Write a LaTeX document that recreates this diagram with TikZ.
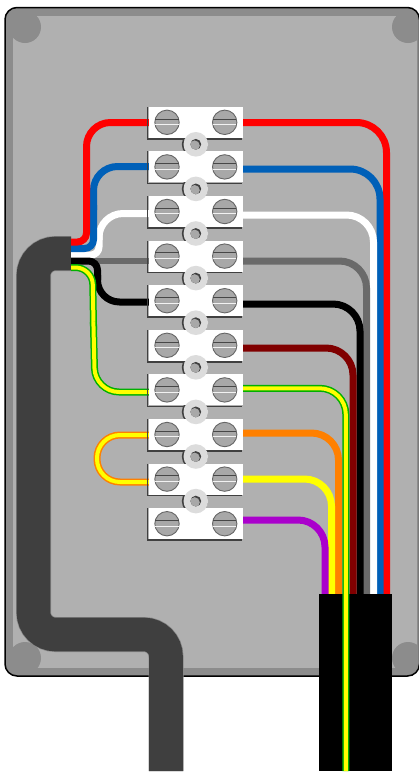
\documentclass[tikz,border=0pt]{standalone}
\definecolor{boxlight}{HTML}{B0B0B0}
\definecolor{boxband}{HTML}{8C8C8C}
\definecolor{cablegrey}{HTML}{3F3F3F}
\definecolor{cableedge}{HTML}{8A8A8A}
\definecolor{wred}{HTML}{FF0000}
\definecolor{wblue}{HTML}{0060B8}
\definecolor{wgrey}{HTML}{6A6A6A}
\definecolor{wdark}{HTML}{800000}
\definecolor{worange}{HTML}{FF8000}
\definecolor{wyellow}{HTML}{FFFF00}
\definecolor{wpurple}{HTML}{AA00CC}
\definecolor{wgreen}{HTML}{00B000}
\definecolor{screwfill}{HTML}{A8A8A8}
\definecolor{screwline}{HTML}{666666}
\definecolor{ringfill}{HTML}{DCDCDC}
\definecolor{shadowline}{HTML}{404040}
\tikzset{
  wireline/.style={line width=7pt,line join=round,rounded corners=#1},
  wireline/.default=27pt,
  groundline/.style={draw=wgreen,line width=1.5pt,double=wyellow,double distance=4pt,line join=round,rounded corners=#1},
  groundline/.default=26pt,
  loopline/.style={draw=worange,line width=1.5pt,double=wyellow,double distance=4pt,line join=round,rounded corners=23pt},
  screwbody/.style={fill=screwfill,draw=screwline,line width=0.9pt},
}
\begin{document}
\begin{tikzpicture}[x=1pt,y=-1pt]
\useasboundingbox (0,0) rectangle (419,772);
\clip (0,0) rectangle (419,772);
% enclosure
\fill[boxband,rounded corners=12pt] (5,7.5) rectangle (419.5,676);
\begin{scope}
\clip[rounded corners=12pt] (5,7.5) rectangle (419.5,676);
\fill[boxlight] (13,16) rectangle (417,668);
\fill[boxband] (25,27) circle (16);
\fill[boxband] (408,27) circle (16);
\fill[boxband] (25,658) circle (16);
\fill[boxband] (408,658) circle (16);
\end{scope}
\draw[black,line width=1.5pt,rounded corners=12pt] (5,7.5) rectangle (419.5,676);
% cable
\draw[cableedge,line width=35pt,rounded corners=22pt] (71,253.5) -- (33.5,253.5) -- (33.5,634.5) -- (166,634.5) -- (166,771);
\draw[cablegrey,line width=33.6pt,rounded corners=22pt] (71,253.5) -- (33.5,253.5) -- (33.5,634.5) -- (166,634.5) -- (166,771);
% wires, right side
\draw[wireline=30pt,wred] (240,122.5) -- (386.5,122.5) -- (386.5,600);
\draw[wireline=30pt,wblue] (240,169) -- (380,169) -- (380,600);
\draw[wireline,white] (240,215) -- (373.5,215) -- (373.5,600);
\draw[wireline,wgrey] (240,261) -- (366.5,261) -- (366.5,600);
\draw[wireline,black] (240,304) -- (360,304) -- (360,600);
\draw[wireline,wdark] (240,348) -- (353,348) -- (353,600);
\draw[wireline,worange] (240,433) -- (338.5,433) -- (338.5,600);
\draw[wireline,wyellow] (240,479) -- (331.5,479) -- (331.5,600);
\draw[wireline,wpurple] (240,520) -- (325,520) -- (325,600);
% wires, left side
\draw[wgrey,line width=6.4pt] (71,261) -- (150,261);
\draw[wireline=24pt,white] (150,213.5) -- (99,213.5) -- (99,240);
\draw[wireline=8pt,white] (99,235) -- (99,255) -- (71,255);
\draw[wireline=24pt,wblue] (150,166.5) -- (93.5,166.5) -- (93.5,210);
\draw[wireline=9pt,wblue] (93.5,205) -- (93.5,248.5) -- (71,248.5);
\draw[wireline=24pt,wred] (150,122.5) -- (86.5,122.5) -- (86.5,190);
\draw[wireline=9pt,wred] (86.5,185) -- (86.5,242) -- (71,242);
\draw[wireline=9pt,black] (71,261) -- (97.5,261) -- (97.5,280);
\draw[wireline=22pt,black] (97.5,275) -- (97.5,302) -- (150,302);
\draw[groundline=17pt] (71,267.5) -- (92.5,267.5) -- (93.6,330);
\draw[groundline=24pt] (93.4,322) -- (95,392) -- (150,392);
\draw[loopline] (150,435) -- (97,435) -- (97,482) -- (150,482);
% gland
\fill[black] (319,594) rectangle (392,771);
% earth wire, on top of the gland
\draw[groundline] (240,388.3) -- (345.8,388.3) -- (345.8,771);
% link shadows
\foreach \i in {0,...,8}{
  \fill[shadowline] ({194.8},{144.3+44.6*\i}) circle (13);
}
% terminal blocks
\foreach \i in {0,...,9}{
  \pgfmathsetmacro{\yt}{106.8+44.6*\i}
  \pgfmathsetmacro{\yc}{122.3+44.6*\i}
  \fill[white] (148.5,\yt) rectangle (243,\yt+31);
  \draw[shadowline,line width=1.6pt] (147.4,\yt) -- (147.4,\yt+32) -- (242,\yt+32);
  \foreach \sx in {167,224.7}{
    \filldraw[screwbody] (\sx,\yc) circle (12.2);
    \draw[screwline!70!black,line width=0.7pt] (\sx-11.6,\yc-3.3) -- (\sx+11.6,\yc-3.3);
    \draw[white!85!screwfill,line width=0.9pt] (\sx-11.6,\yc+2.3) -- (\sx+11.6,\yc+2.3);
  }
}
% links
\foreach \i in {0,...,8}{
  \pgfmathsetmacro{\yl}{144.3+44.6*\i}
  \fill[ringfill] (195.8,\yl) circle (12.3);
  \fill[shadowline] (195.8,\yl) circle (5.4);
  \begin{scope}
  \clip (195.8,\yl) circle (5.4);
  \fill[screwfill] (194.6,\yl+1.3) circle (5.2);
  \end{scope}
}
\end{tikzpicture}
\end{document}
